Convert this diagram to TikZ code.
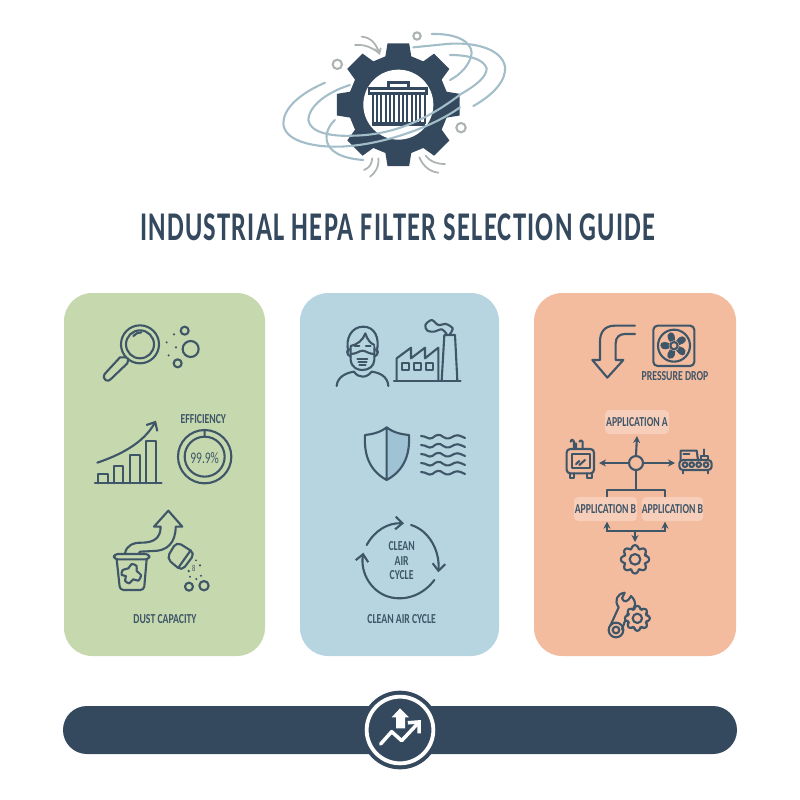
\documentclass[tikz,border=0pt]{standalone}
\usepackage{fontspec}
\setmainfont[FakeStretch=0.71]{Carlito}
\newfontfamily\titlefont[FakeStretch=0.65,LetterSpace=3]{Carlito}
\usetikzlibrary{arrows.meta,calc}
\definecolor{slate}{HTML}{34495E}
\definecolor{inkline}{HTML}{3F5568}
\definecolor{orbit}{HTML}{A3BEC9}
\definecolor{dustgrey}{HTML}{ADB3B3}
\definecolor{greenpanel}{HTML}{C6D9AE}
\definecolor{bluepanel}{HTML}{B6D5E1}
\definecolor{orangepanel}{HTML}{F3BC9F}
\definecolor{shieldshade}{HTML}{9FC3D4}
\tikzset{
  panel/.style={rounded corners=8pt, draw=none},
  icon/.style={draw=inkline, line width=0.6pt, line cap=round, line join=round},
  orbitline/.style={draw=orbit, line width=0.6pt, line cap=round},
  dustline/.style={draw=dustgrey, line width=0.5pt, line cap=round},
  caption/.style={text=inkline, font=\fontsize{3.9}{4.4}\selectfont\bfseries, inner sep=0pt, align=center},
  appbox/.style={caption, fill=white, fill opacity=0.28, text opacity=1, rounded corners=1.2pt, minimum height=24*0.2835pt},
  openhead/.style={-{Straight Barb[length=2pt,width=3.6pt]}},
  smallhead/.style={-{Stealth[length=2pt,width=2pt]}}
}
% cog outline: centre, outer radius, root radius, half tooth top, half tooth base, step
\newcommand{\cogoutline}[6]{
  ($(#1)+(-#5:#3)$) \foreach \a in {0,#6,...,359}{
    -- ($(#1)+(\a-#5:#3)$) -- ($(#1)+(\a-#4:#2)$) -- ($(#1)+(\a+#4:#2)$) -- ($(#1)+(\a+#5:#3)$)
  } -- cycle
}
\begin{document}
\begin{tikzpicture}[x=0.01cm,y=-0.01cm,>=stealth]
  \useasboundingbox (0,0) rectangle (800,800);
  %panels
  \fill[panel,greenpanel] (64,293) rectangle (265,656);
  \fill[panel,bluepanel] (300,293) rectangle (499,656);
  \fill[panel,orangepanel] (534,293) rectangle (736,656);
  \fill[slate,rounded corners=6.8pt] (63,706) rectangle (737,754);
  % Title
  \node[text=slate,font=\fontsize{11.6}{13}\selectfont\titlefont\bfseries,inner sep=0pt](title) at (398,227) {INDUSTRIAL HEPA FILTER SELECTION GUIDE};

  % top gear
  \begin{scope}[shift={(260,20)},scale=1/3]
    \fill[slate] \cogoutline{415,254}{187}{150}{10}{15}{45};
    \fill[white] (415,254) circle (105);
    \draw[slate,line width=0.7pt,fill=white] (385,187) rectangle (445,205);
    \draw[slate,line width=0.7pt,fill=white] (327,205) rectangle (500,220);
    \foreach \x in {338,351,...,495}{\draw[slate,line width=0.65pt] (\x,222) -- (\x,312);}
    \draw[slate,line width=1pt] (335,312) -- (495,312);
    \draw[orbitline] (195,188) .. controls (110,225) and (70,270) .. (70,310) .. controls (72,360) and (150,382) .. (240,380) .. controls (370,375) and (520,320) .. (600,262);
    \draw[orbitline] (640,258) .. controls (700,225) and (740,180) .. (735,140) .. controls (725,85) and (640,65) .. (560,72) -- (460,82);
    \draw[orbitline] (270,195) .. controls (190,220) and (145,265) .. (145,300) .. controls (150,340) and (220,350) .. (280,347) .. controls (400,345) and (500,300) .. (603,222);
    \draw[orbitline] (603,222) .. controls (650,195) and (680,170) .. (680,145) .. controls (670,115) and (620,105) .. (570,105);
    \draw[orbitline] (225,300) .. controls (190,330) and (170,410) .. (310,420);
    \draw[orbitline] (515,42) .. controls (590,40) and (635,65) .. (635,100) .. controls (630,135) and (600,165) .. (570,180);
    \draw[dustline] (305,50) .. controls (335,52) and (350,75) .. (358,100);
    \draw[dustline] (285,75) .. controls (315,72) and (340,85) .. (358,100);
    \draw[dustline] (345,88) -- (358,100) -- (362,85);
    \draw[dustline] (337,415) .. controls (335,435) and (325,445) .. (312,450);
    \draw[dustline] (355,415) .. controls (358,440) and (345,460) .. (330,470);
    \draw[dustline] (497,407) .. controls (510,425) and (530,432) .. (555,432);
    \draw[dustline] (478,412) .. controls (490,440) and (510,455) .. (535,458);
    \draw[dustline,line width=0.6pt] (232,133) circle (14) (471,48) circle (11) (603,323) circle (14);
  \end{scope}

  % green panel, magnifier and chart
  \begin{scope}[shift={(70,300)},scale=1/3]
    \draw[icon] (210,133) circle (57) (210,133) circle (42);
    \draw[icon] (190,108) .. controls (197,100) and (205,97) .. (214,97);
    \draw[icon] (167,172) -- (150,172) -- (104,222) .. controls (95,240) and (115,250) .. (125,235) -- (172,190) -- (175,176);
    \fill[inkline] (312,103) circle (3.5) (290,127) circle (3.5) (318,142) circle (3.5) (296,166) circle (3.5);
    \draw[icon] (344,92) circle (12) (362,147) circle (24) (323,190) circle (12);
    \draw[icon] (75,550) -- (275,550);
    \draw[icon] (85,550) |- (113,522) -- (113,550);
    \draw[icon] (132,550) |- (160,497) -- (160,550);
    \draw[icon] (181,550) |- (211,466) -- (211,550);
    \draw[icon] (229,550) |- (259,423) -- (259,550);
    \draw[icon,openhead] (82,488) .. controls (150,465) and (220,430) .. (258,362);
    \node[caption](efflabel) at (400,357) {EFFICIENCY};
    \draw[icon] (404,470) circle (80) (404,470) circle (60) (404,390) -- (404,409);
    \node[caption,font=\fontsize{4.6}{5}\selectfont](effvalue) at (404,473) {99.9\%};
  \end{scope}

  % green panel, dust bucket
  \begin{scope}[shift={(70,490)},scale=1/3]
    \draw[icon] (165,190) .. controls (170,165) and (190,158) .. (215,158) .. controls (250,158) and (272,145) .. (272,110) -- (252,110) -- (295,62) -- (337,110) -- (317,110) .. controls (317,160) and (290,183) .. (250,183) -- (210,185) -- (206,192);
    \draw[icon,rounded corners=1pt] (132,192) rectangle (238,208);
    \draw[icon,rounded corners=1pt] (140,208) -- (150,300) -- (222,300) -- (230,208);
    \draw[icon] plot[smooth cycle] coordinates {(158,240) (175,235) (185,222) (200,228) (200,243) (213,255) (205,272) (190,268) (178,280) (165,272) (168,258) (155,255)};
    \draw[icon,rounded corners=1.5pt] (320,155) -- (375,190) -- (335,243) -- (290,205) -- cycle;
    \draw[icon] (362,181) -- (325,233);
    \fill[inkline] (378,211) circle (3) (390,226) circle (4) (356,243) circle (4) (360,260) circle (3.5) (379,267) circle (3.5) (393,257) circle (3.5);
    \node[caption,font=\fontsize{2.6}{3}\selectfont](dustbit) at (371,235) {8};
    \draw[icon] (357,290) circle (12) (402,287) circle (14);
    \node[caption](dustlabel) at (285,387) {DUST CAPACITY};
  \end{scope}

  % blue panel, person, factory, shield
  \begin{scope}[shift={(310,310)},scale=1/3]
    \draw[icon] (80,228) .. controls (82,200) and (110,188) .. (132,185) .. controls (145,205) and (170,205) .. (185,185) .. controls (210,188) and (233,200) .. (235,228);
    \draw[icon] (122,110) -- (122,150) .. controls (125,175) and (145,180) .. (157,180) .. controls (175,180) and (192,170) .. (193,150) -- (193,110);
    \draw[icon] (115,125) .. controls (105,85) and (125,50) .. (160,50) .. controls (195,50) and (210,85) .. (200,125);
    \draw[icon] (122,108) .. controls (140,105) and (160,90) .. (166,70) .. controls (172,90) and (182,100) .. (193,105);
    \draw[icon] (134,108) -- (148,108) (168,108) -- (182,108);
    \draw[icon] (122,132) .. controls (140,132) and (148,122) .. (157,122) .. controls (168,122) and (175,132) .. (193,132);
    \draw[icon] (122,118) .. controls (108,115) and (108,135) .. (122,140) (193,118) .. controls (207,115) and (207,135) .. (193,140);
    \draw[icon] (142,146) -- (172,146) (145,156) -- (170,156) (148,166) -- (167,166);
    \draw[icon] (252,212) -- (452,212);
    \draw[icon] (260,212) -- (260,145) -- (303,113) -- (303,145) -- (345,113) -- (345,145) -- (385,113) -- (385,212);
    \foreach \x in {275,312,348}{\draw[icon] (\x,160) rectangle ++(21,20);}
    \draw[icon] (395,212) -- (403,75) -- (435,75) -- (442,212);
    \draw[icon] plot[smooth] coordinates {(420,72) (428,55) (408,42) (385,45) (365,30) (346,45) (352,62) (372,65) (395,58) (410,72)};
    \fill[shieldshade] (230,352) .. controls (250,368) and (275,373) .. (297,375) .. controls (300,430) and (285,480) .. (230,510) -- cycle;
    \draw[icon] (230,352) .. controls (210,368) and (185,373) .. (165,375) .. controls (162,430) and (175,480) .. (230,510) .. controls (285,480) and (300,430) .. (297,375) .. controls (275,373) and (250,368) .. (230,352) -- (230,510);
    \foreach \y in {378,405,432,459,486}{
      \draw[icon] (333,\y) .. controls (350,\y-0) and (355,\y+12) .. (367,\y+6) .. controls (380,\y-6) and (390,\y-6) .. (400,\y+3) .. controls (412,\y+12) and (422,\y+6) .. (432,\y) .. controls (445,\y-6) and (455,\y+2) .. (465,\y+6);
    }
  \end{scope}

  % blue panel, cycle
  \begin{scope}[shift={(340,500)},scale=1/3]
    \draw[icon,openhead] (80,135) .. controls (105,90) and (145,68) .. (192,70);
    \draw[icon,openhead] (213,75) .. controls (265,90) and (300,150) .. (295,217);
    \draw[icon,openhead] (283,240) .. controls (250,285) and (195,305) .. (145,290) .. controls (95,275) and (60,220) .. (70,158);
    \node[caption](cycleinner) at (185,182) {CLEAN\\[-0.3pt]AIR\\[-0.3pt]CYCLE};
    \node[caption](cyclelabel) at (185,357) {CLEAN AIR CYCLE};
  \end{scope}

  % orange panel, pressure drop
  \begin{scope}[shift={(550,310)},scale=1/3]
    \draw[icon] (255,47) -- (195,47) .. controls (165,47) and (150,65) .. (150,95) -- (150,150) -- (127,150) -- (172,203) -- (220,150) -- (197,150) -- (197,100) .. controls (197,82) and (208,72) .. (225,72) -- (255,72);
    \draw[icon,rounded corners=1.2pt] (310,47) rectangle (433,168);
    \draw[icon] (372,107) circle (48);
    \foreach \a in {20,92,164,236,308}{
      \fill[inkline,rotate around={\a:(372,107)}] (372,107) .. controls (385,90) and (405,80) .. (412,97) .. controls (415,110) and (395,115) .. (372,107);
    }
    \fill[orangepanel] (372,107) circle (16);
    \draw[icon] (372,107) circle (11);
    \node[caption](fanlabel) at (375,197) {PRESSURE DROP};
    % oven
    \draw[icon,rounded corners=1pt] (50,417) rectangle (132,490);
    \draw[icon] (65,433) rectangle (120,475);
    \draw[icon] (78,462) -- (88,453) (88,465) -- (105,450);
    \draw[icon] (60,490) -- (60,505) -- (72,505) -- (72,490) (112,490) -- (112,505) -- (125,505) -- (125,490);
    \draw[icon] (72,417) -- (72,395) .. controls (66,385) and (62,390) .. (62,395) (78,417) -- (78,400) (98,417) -- (98,395) .. controls (95,388) and (90,392) .. (88,395);
    % machine
    \draw[icon,rounded corners=1pt] (388,450) rectangle (485,480);
    \draw[icon] (392,450) -- (392,422) -- (440,422) -- (444,450);
    \draw[icon] (400,432) -- (418,432);
    \draw[icon] (452,450) -- (452,438) -- (474,438) -- (474,450) (463,438) -- (463,418);
    \foreach \x in {405,425,446,468}{\draw[icon] (\x,464) circle (7);}
    \draw[icon] (398,480) -- (398,490) (475,480) -- (475,490);
  \end{scope}

  % application nodes
  \node[appbox,minimum width=64*0.2835pt](appA) at (637,422) {APPLICATION A};
  \node[appbox,minimum width=63*0.2835pt](appB) at (605.5,509) {APPLICATION B};
  \node[appbox,minimum width=61*0.2835pt](appC) at (672.5,509) {APPLICATION B};
  \node[draw=inkline,line width=0.6pt,circle,minimum size=14*0.2835pt,inner sep=0pt](hub) at (636,463) {};
  \coordinate (ovenport) at (599,463);
  \coordinate (machineport) at (675,463);
  \coordinate (splitL) at (607,490);
  \coordinate (splitR) at (665,490);
  \coordinate (joinL) at (607,531);
  \coordinate (joinR) at (665,531);
  \coordinate (cogtop) at (635,542);
  % Edges
  \draw[icon,smallhead] (hub.north) -- (appA.south |- 0,436);
  \draw[icon,smallhead] (hub.west) -- (ovenport);
  \draw[icon,smallhead] (hub.east) -- (machineport);
  \draw[icon] (hub.south) -- (636,490);
  \draw[icon] (splitL |- appB.north) -- (splitL) -- (splitR) -- (splitR |- appC.north);
  \draw[icon,smallhead] (joinL) -- (splitL |- appB.south);
  \draw[icon,smallhead] (joinR) -- (splitR |- appC.south);
  \draw[icon] (joinL) -- (joinR);
  \draw[icon,smallhead] (635,531) -- (cogtop);

  % cog and wrench
  \begin{scope}[shift={(550,470)},scale=1/3]
    \draw[icon,rounded corners=0.6pt] \cogoutline{255,268}{43}{33}{10}{16}{45};
    \draw[icon] (255,268) circle (16);
    \draw[icon] (181,467) -- (206,412) .. controls (192,392) and (200,372) .. (224,368) -- (216,385) .. controls (222,398) and (232,398) .. (243,378) .. controls (262,395) and (258,420) .. (235,425) -- (216,478);
    \draw[icon] (198,480) circle (22) (198,480) circle (10);
    \draw[icon,fill=orangepanel,rounded corners=0.6pt] \cogoutline{262,445}{38}{29}{10}{16}{45};
    \draw[icon] (262,445) circle (14);
  \end{scope}

  % bottom badge
  \begin{scope}[shift={(340,680)},scale=1/3]
    \fill[slate] (180,150) circle (118);
    \draw[white,line width=1.1pt] (180,150) circle (100);
    \fill[white] (180,85) -- (155,112) -- (168,112) -- (168,145) -- (195,145) -- (195,112) -- (207,112) -- cycle;
    \draw[white,line width=1pt,line cap=round,line join=round,-{Straight Barb[length=2.4pt,width=4.4pt]}] (122,192) -- (155,155) -- (185,182) -- (243,120);
  \end{scope}
\end{tikzpicture}
\end{document}
